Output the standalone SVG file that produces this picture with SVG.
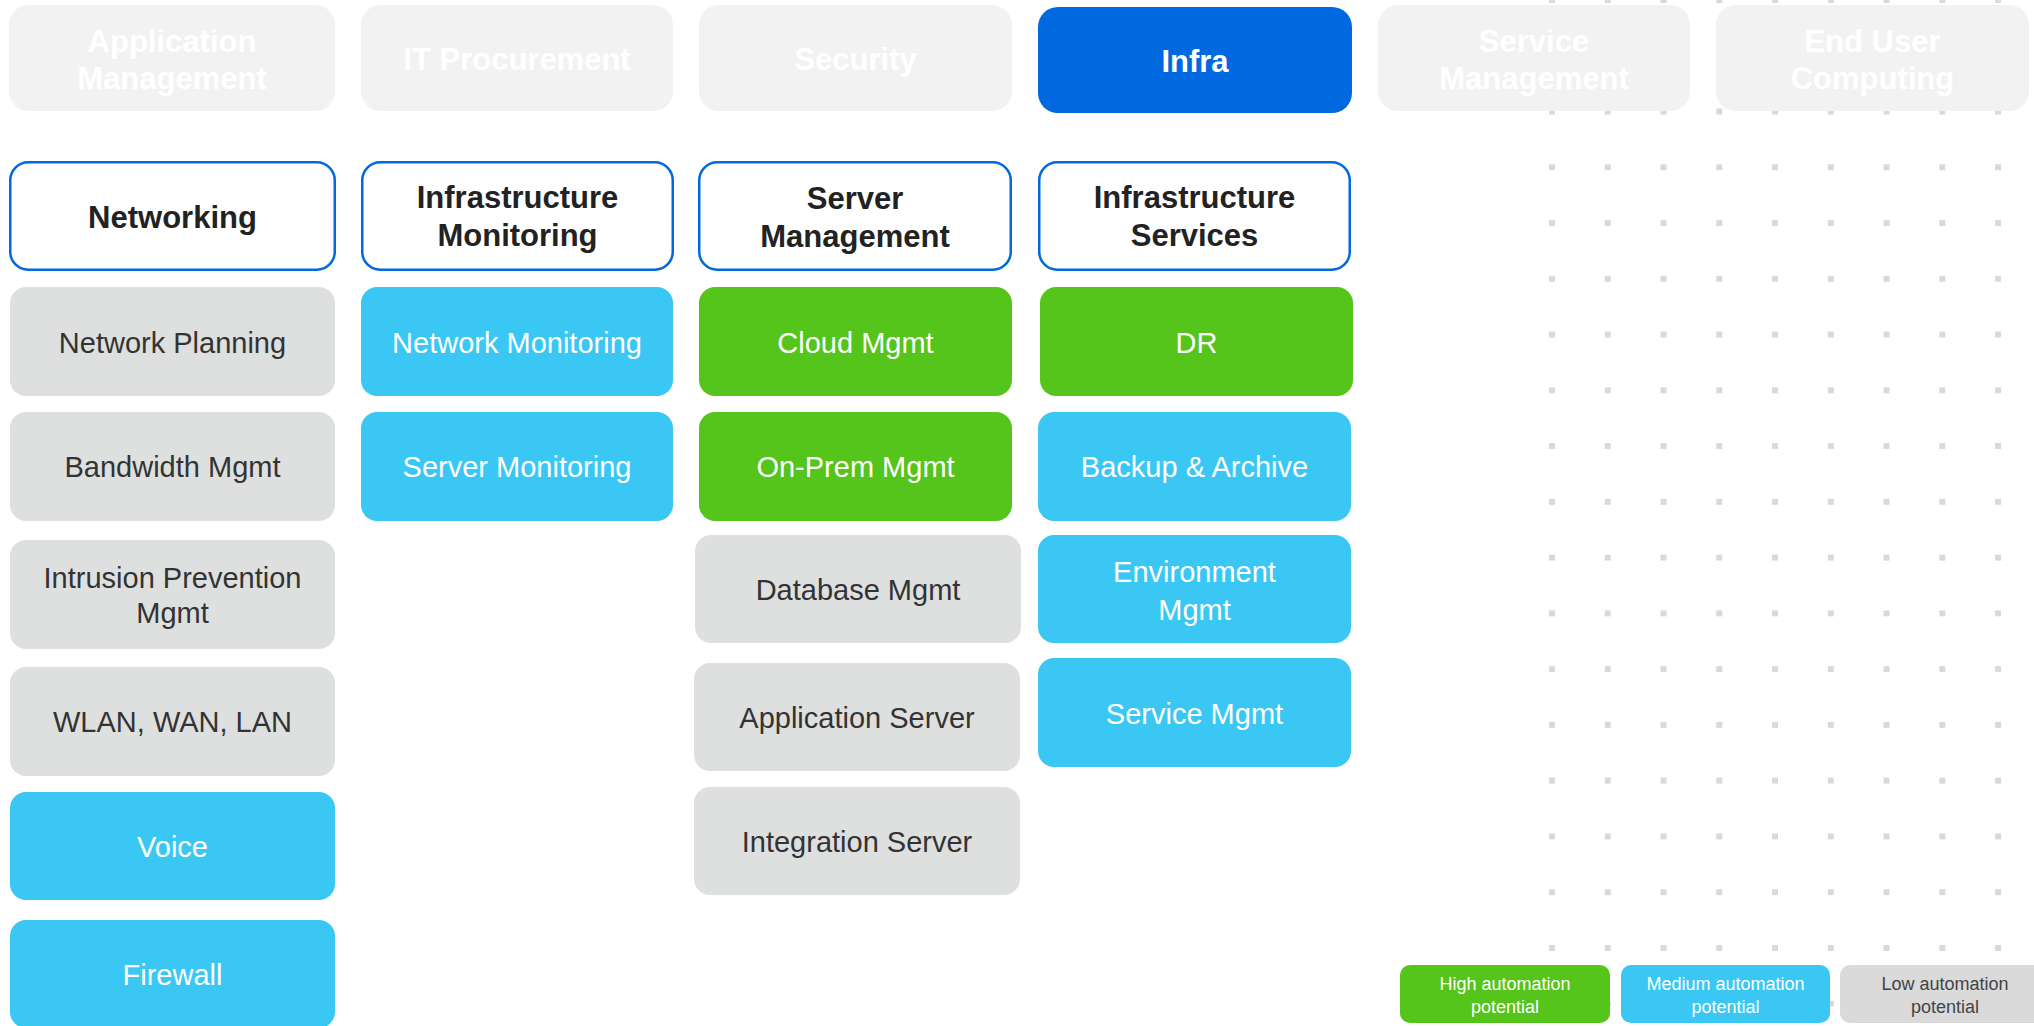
<svg xmlns="http://www.w3.org/2000/svg" width="2034" height="1026" viewBox="0 0 2034 1026">
<defs>
<pattern id="dots" patternUnits="userSpaceOnUse" x="1524.12" y="-27.88" width="55.76" height="55.76">
<rect x="24.88" y="24.88" width="6" height="6" fill="#D9D9D9"/>
</pattern>
</defs>
<style>
text{font-family:"Liberation Sans",Arial,sans-serif;text-anchor:middle}
.top{fill:#F2F2F2}
.topt{fill:#FFFFFF;font-size:31px;font-weight:bold}
.sel{fill:#0069DF}
.hdr{fill:#FFFFFF;stroke:#0069DF;stroke-width:2.5}
.hdrt{fill:#222222;font-size:31px;font-weight:bold}
.g{fill:#55C41B}
.c{fill:#3BC7F4}
.l{fill:#DEDFDF}
.wt{fill:#FFFFFF;font-size:29px}
.dt{fill:#333333;font-size:29px}
.lg{font-size:18px}
</style>
<rect x="1524.12" y="0" width="509.88" height="1026" fill="url(#dots)"/>
<g id="connectors"/>
<g id="top-application-management"><rect class="top" x="9" y="5" width="326" height="106" rx="20"/><text class="topt" x="172" y="52">Application</text><text class="topt" x="172" y="89">Management</text></g>
<g id="top-it-procurement"><rect class="top" x="361" y="5" width="312" height="106" rx="20"/><text class="topt" x="517" y="70">IT Procurement</text></g>
<g id="top-security"><rect class="top" x="699" y="5" width="313" height="106" rx="20"/><text class="topt" x="855.5" y="70">Security</text></g>
<g id="top-infra"><rect class="sel" x="1038" y="7" width="314" height="106" rx="20"/><text class="topt" x="1195" y="72">Infra</text></g>
<g id="top-service-management"><rect class="top" x="1378" y="5" width="312" height="106" rx="20"/><text class="topt" x="1534" y="52">Service</text><text class="topt" x="1534" y="89">Management</text></g>
<g id="top-end-user-computing"><rect class="top" x="1716" y="5" width="313" height="106" rx="20"/><text class="topt" x="1872.5" y="52">End User</text><text class="topt" x="1872.5" y="89">Computing</text></g>
<g id="hdr-networking"><rect class="hdr" x="10.25" y="162.25" width="324.5" height="107.5" rx="18"/><text class="hdrt" x="172.5" y="228">Networking</text></g>
<g id="hdr-infrastructure-monitoring"><rect class="hdr" x="362.25" y="162.25" width="310.5" height="107.5" rx="18"/><text class="hdrt" x="517.5" y="208">Infrastructure</text><text class="hdrt" x="517.5" y="246">Monitoring</text></g>
<g id="hdr-server-management"><rect class="hdr" x="699.25" y="162.25" width="311.5" height="107.5" rx="18"/><text class="hdrt" x="855" y="209">Server</text><text class="hdrt" x="855" y="247">Management</text></g>
<g id="hdr-infrastructure-services"><rect class="hdr" x="1039.25" y="162.25" width="310.5" height="107.5" rx="18"/><text class="hdrt" x="1194.5" y="208">Infrastructure</text><text class="hdrt" x="1194.5" y="246">Services</text></g>
<g id="network-planning"><rect class="l" x="10" y="287" width="325" height="109" rx="16"/><text class="dt" x="172.5" y="353">Network Planning</text></g>
<g id="bandwidth-mgmt"><rect class="l" x="10" y="412" width="325" height="109" rx="16"/><text class="dt" x="172.5" y="477">Bandwidth Mgmt</text></g>
<g id="intrusion-prevention-mgmt"><rect class="l" x="10" y="540" width="325" height="109" rx="16"/><text class="dt" x="172.5" y="588">Intrusion Prevention</text><text class="dt" x="172.5" y="623">Mgmt</text></g>
<g id="wlan-wan-lan"><rect class="l" x="10" y="667" width="325" height="109" rx="16"/><text class="dt" x="172.5" y="732">WLAN, WAN, LAN</text></g>
<g id="voice"><rect class="c" x="10" y="792" width="325" height="108" rx="16"/><text class="wt" x="172.5" y="856.5">Voice</text></g>
<g id="firewall"><rect class="c" x="10" y="920" width="325" height="108" rx="16"/><text class="wt" x="172.5" y="985">Firewall</text></g>
<g id="network-monitoring"><rect class="c" x="361" y="287" width="312" height="109" rx="16"/><text class="wt" x="517" y="353">Network Monitoring</text></g>
<g id="server-monitoring"><rect class="c" x="361" y="412" width="312" height="109" rx="16"/><text class="wt" x="517" y="477">Server Monitoring</text></g>
<g id="cloud-mgmt"><rect class="g" x="699" y="287" width="313" height="109" rx="16"/><text class="wt" x="855.5" y="353">Cloud Mgmt</text></g>
<g id="on-prem-mgmt"><rect class="g" x="699" y="412" width="313" height="109" rx="16"/><text class="wt" x="855.5" y="477">On-Prem Mgmt</text></g>
<g id="database-mgmt"><rect class="l" x="695" y="535" width="326" height="108" rx="16"/><text class="dt" x="858" y="600">Database Mgmt</text></g>
<g id="application-server"><rect class="l" x="694" y="663" width="326" height="108" rx="16"/><text class="dt" x="857" y="727.5">Application Server</text></g>
<g id="integration-server"><rect class="l" x="694" y="787" width="326" height="108" rx="16"/><text class="dt" x="857" y="851.5">Integration Server</text></g>
<g id="dr"><rect class="g" x="1040" y="287" width="313" height="109" rx="16"/><text class="wt" x="1196.5" y="353">DR</text></g>
<g id="backup-archive"><rect class="c" x="1038" y="412" width="313" height="109" rx="16"/><text class="wt" x="1194.5" y="477">Backup &amp; Archive</text></g>
<g id="environment-mgmt"><rect class="c" x="1038" y="535" width="313" height="108" rx="16"/><text class="wt" x="1194.5" y="582">Environment</text><text class="wt" x="1194.5" y="620">Mgmt</text></g>
<g id="service-mgmt"><rect class="c" x="1038" y="658" width="313" height="109" rx="16"/><text class="wt" x="1194.5" y="723.5">Service Mgmt</text></g>
<g id="legend-high"><rect class="g" x="1400" y="965" width="210" height="58" rx="10"/><text class="lg" x="1505" y="990" fill="#FFFFFF">High automation</text><text class="lg" x="1505" y="1013" fill="#FFFFFF">potential</text></g>
<g id="legend-medium"><rect class="c" x="1621" y="965" width="209" height="58" rx="10"/><text class="lg" x="1725.5" y="990" fill="#FFFFFF">Medium automation</text><text class="lg" x="1725.5" y="1013" fill="#FFFFFF">potential</text></g>
<g id="legend-low"><rect x="1840" y="965" width="210" height="58" rx="10" fill="#DADADA"/><text class="lg" x="1945" y="990" fill="#444444">Low automation</text><text class="lg" x="1945" y="1013" fill="#444444">potential</text></g>
</svg>
